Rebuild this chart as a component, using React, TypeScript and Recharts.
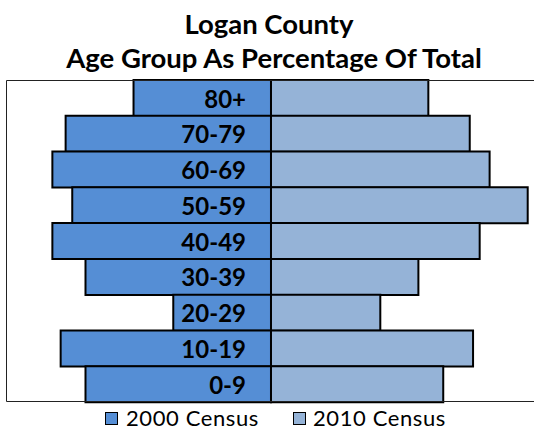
import React from 'react';
import { BarChart, Bar, XAxis, YAxis, LabelList } from 'recharts';

const ageGroups = ['80+', '70-79', '60-69', '50-59', '40-49', '30-39', '20-29', '10-19', '0-9'];
const census2000 = [8.3, 12.4, 13.2, 12.0, 13.2, 11.2, 5.9, 12.7, 11.2];
const census2010 = [9.5, 12.0, 13.2, 15.5, 12.6, 8.9, 6.6, 12.2, 10.4];
const axisLimit = 16;
const titleLines = ['Logan County', 'Age Group As Percentage Of Total'];
const seriesNames = ['2000 Census', '2010 Census'];
const seriesColors = ['#558ED5', '#95B3D7'];

const data = ageGroups.map((age, i) => ({ age, c2000: -census2000[i], c2010: census2010[i] }));

const FONT = 'Lato, "Open Sans", sans-serif';

const AgeLabel = (props: any) => {
  const { x, y, width, height, value } = props;
  const right = Math.max(Number(x), Number(x) + Number(width));
  return (
    <text
      x={right - 25}
      y={Number(y) + Number(height) / 2}
      textAnchor="end"
      dominantBaseline="central"
      fontFamily={FONT}
      fontWeight="bold"
      fontSize={24}
      fill="#000"
    >
      {value}
    </text>
  );
};

export default function App() {
  return (
    <div style={{ position: 'absolute', left: 0, top: 0, width: 534, height: 430, background: '#fff', overflow: 'hidden' }}>
      <div
        style={{
          position: 'absolute',
          left: 0,
          top: 0,
          width: 534,
          textAlign: 'center',
          fontFamily: FONT,
          fontWeight: 'bold',
          fontSize: 27.5,
          lineHeight: '34px',
          color: '#000',
          paddingTop: 7,
          whiteSpace: 'nowrap',
        }}
      >
        <div style={{ paddingLeft: 4 }}>{titleLines[0]}</div>
        <div style={{ paddingLeft: 14 }}>{titleLines[1]}</div>
      </div>
      <div style={{ position: 'absolute', left: 0, top: 0 }}>
        <BarChart
          width={534}
          height={430}
          data={data}
          layout="vertical"
          stackOffset="sign"
          barCategoryGap={0}
          margin={{ top: 80, right: 0, bottom: 28, left: 6 }}
        >
          <XAxis type="number" hide domain={[-axisLimit, axisLimit - 0.12]} allowDataOverflow />
          <YAxis type="category" dataKey="age" hide />
          <Bar dataKey="c2000" stackId="p" fill={seriesColors[0]} stroke="#000" strokeWidth={2} isAnimationActive={false}>
            <LabelList dataKey="age" content={AgeLabel} />
          </Bar>
          <Bar dataKey="c2010" stackId="p" fill={seriesColors[1]} stroke="#000" strokeWidth={2} isAnimationActive={false} />
        </BarChart>
      </div>
      <svg width={534} height={430} style={{ position: 'absolute', left: 0, top: 0, pointerEvents: 'none' }}>
        <path d="M540,80.5 H6.5 V401.5 H540" fill="none" stroke="#222" strokeWidth={1} />
      </svg>
      {seriesNames.map((name, i) => (
        <div
          key={name}
          style={{ position: 'absolute', left: i === 0 ? 105 : 293, top: 406, height: 24, display: 'flex', alignItems: 'center' }}
        >
          <div style={{ width: 11, height: 11, background: seriesColors[i], border: '1.5px solid #000', marginRight: i === 0 ? 8 : 7 }} />
          <span style={{ fontFamily: FONT, fontSize: 22, letterSpacing: 0.6, color: '#000', lineHeight: '24px' }}>{name}</span>
        </div>
      ))}
    </div>
  );
}
